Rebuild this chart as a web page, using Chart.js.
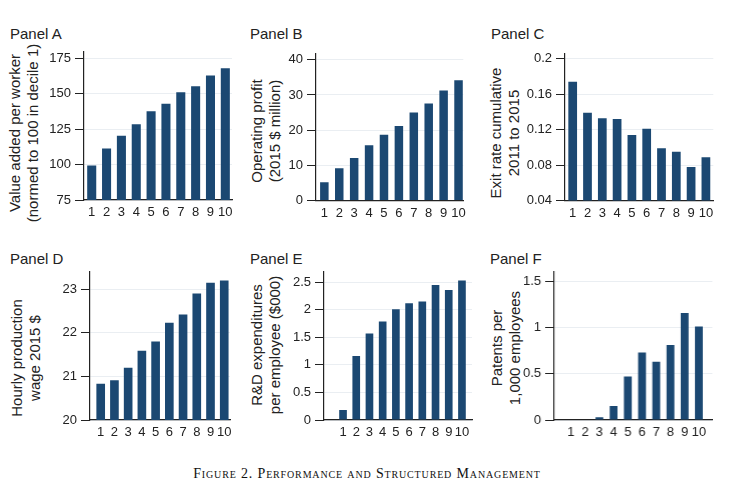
<!DOCTYPE html>
<html>
<head>
<meta charset="utf-8">
<script src="https://cdn.jsdelivr.net/npm/chart.js@4.4.0/dist/chart.umd.min.js"></script>
<style>
  body { margin: 0; background: #fff; width: 734px; height: 493px; position: relative; overflow: hidden;
         font-family: "Liberation Sans", Arial, sans-serif; color: #222; }
  .panel { position: absolute; }
  .ptitle { position: absolute; font-size: 15px; line-height: 15px; white-space: nowrap; }
  .ytitle { position: absolute; font-size: 15px; line-height: 18px; text-align: center; white-space: nowrap;
            transform: translate(-50%, -50%) rotate(-90deg); }
  .caption { position: absolute; left: 0; width: 734px; top: 466px; text-align: center;
             font-family: "Liberation Serif", serif; font-variant: small-caps; font-size: 14px;
             letter-spacing: 0.85px; color: #111; }
</style>
</head>
<body>
<div id="content"></div>
<div class="caption">Figure 2. Performance and Structured Management</div>
<script>
// management deciles on the x axis
const deciles = [1, 2, 3, 4, 5, 6, 7, 8, 9, 10]

// series, one per panel
const valueAdded = [99.3, 111.3, 120.4, 128.5, 137.7, 143.0, 151.2, 155.3, 163.0, 168.0]
const profit     = [5.2, 9.2, 12.1, 15.7, 18.7, 21.2, 25.0, 27.6, 31.3, 34.2]
const exitRate   = [0.174, 0.139, 0.133, 0.132, 0.114, 0.121, 0.099, 0.095, 0.078, 0.089]
const wage       = [20.83, 20.91, 21.2, 21.59, 21.8, 22.23, 22.42, 22.9, 23.15, 23.2]
const rnd        = [0.18, 1.16, 1.57, 1.79, 2.01, 2.12, 2.15, 2.45, 2.36, 2.53]
const patents    = [0, 0, 0.03, 0.15, 0.47, 0.73, 0.63, 0.81, 1.155, 1.01]

// y tick labels
const ticksA = [75, 100, 125, 150, 175]
const ticksB = [0, 10, 20, 30, 40]
const ticksC = [0.04, 0.08, 0.12, 0.16, 0.2]
const ticksD = [20, 21, 22, 23]
const ticksE = [0, 0.5, 1, 1.5, 2, 2.5]
const ticksF = [0, 0.5, 1, 1.5]

const barColor = '#1b4872'
const axisColor = '#222'
const gridColor = '#eaeef2'
const font = {family: '"Liberation Sans", Arial, sans-serif', size: 13}

const panels = [
  {name: 'Panel A', ytitle: ['Value added per worker', '(normed to 100 in decile 1)'], values: valueAdded, yTicks: ticksA,
   yMin: 75, yMax: 179.7, xMin: 0.48, xMax: 10.45, axisX: 84, top: 50, bottom: 200, right: 232,
   tx: 10, ty: 25.5, lx: 24, ly: 133, bar: 0.61},
  {name: 'Panel B', ytitle: ['Operating profit', '(2015 $ million)'], values: profit, yTicks: ticksB,
   yMin: 0, yMax: 41.7, xMin: 0.44, xMax: 10.32, axisX: 315.7, top: 51.7, bottom: 200.3, right: 463,
   tx: 250, ty: 25.5, lx: 266, ly: 131, bar: 0.57},
  {name: 'Panel C', ytitle: ['Exit rate cumulative', '2011 to 2015'], values: exitRate, yTicks: ticksC,
   yMin: 0.04, yMax: 0.2056, xMin: 0.48, xMax: 10.5, axisX: 565, top: 51.7, bottom: 200.3, right: 713.3,
   tx: 491, ty: 25.5, lx: 505, ly: 133, bar: 0.59},
  {name: 'Panel D', ytitle: ['Hourly production', 'wage 2015 $'], values: wage, yTicks: ticksD,
   yMin: 20, yMax: 23.4, xMin: 0.22, xMax: 10.42, axisX: 90, top: 270, bottom: 420, right: 230,
   tx: 10, ty: 250.5, lx: 26, ly: 358, bar: 0.63},
  {name: 'Panel E', ytitle: ['R&D expenditures', 'per employee ($000)'], values: rnd, yTicks: ticksE,
   yMin: 0, yMax: 2.69, xMin: -0.44, xMax: 10.76, axisX: 323.7, top: 270, bottom: 420, right: 471.7,
   tx: 250, ty: 250.5, lx: 266, ly: 345, bar: 0.58},
  {name: 'Panel F', ytitle: ['Patents per', '1,000 employees'], values: patents, yTicks: ticksF,
   yMin: 0, yMax: 1.6, xMin: -0.18, xMax: 10.95, axisX: 554.3, top: 270, bottom: 420, right: 711.7,
   tx: 490, ty: 250.5, lx: 505.5, ly: 348, bar: 0.55},
]

const yW = 40   // width of the y scale box (labels + tick marks)
const xH = 25   // height of the x scale box
const Body = document.getElementById('content')

panels.forEach((p, i) => {
  const left = p.axisX - yW
  const top = p.top - 10
  const w = p.right + 10 - left
  const h = p.bottom - top + xH
  const html = `
    <div class="ptitle" style="left:${p.tx}px;top:${p.ty}px">${p.name}</div>
    <div class="ytitle" style="left:${p.lx}px;top:${p.ly}px">${p.ytitle.map(s => s.replace('&', '&amp;')).join('<br>')}</div>
    <div class="panel" style="left:${left}px;top:${top}px;width:${w}px;height:${h}px"><canvas id="c${i}"></canvas></div>
  `
  Body.appendChild(document.createRange().createContextualFragment(html))

  new Chart(document.getElementById('c' + i), {
    type: 'bar',
    data: {
      datasets: [{
        data: deciles.map((d, k) => ({x: d, y: p.values[k]})),
        backgroundColor: barColor,
        borderWidth: 0,
        barPercentage: p.bar,
        categoryPercentage: 1
      }]
    },
    options: {
      animation: false,
      responsive: true,
      maintainAspectRatio: false,
      layout: {padding: {top: 10, right: 10, left: 0, bottom: 0}},
      plugins: {legend: {display: false}, tooltip: {enabled: false}},
      scales: {
        x: {
          type: 'linear', min: p.xMin, max: p.xMax, offset: false,
          afterBuildTicks: s => { s.ticks = deciles.map(v => ({value: v})) },
          afterFit: s => { s.height = xH },
          grid: {display: true, drawOnChartArea: false, drawTicks: false, offset: false},
          border: {display: true, color: axisColor, width: 1.2},
          ticks: {autoSkip: false, maxRotation: 0, padding: 5, color: axisColor, font, callback: v => String(v)}
        },
        y: {
          min: p.yMin, max: p.yMax,
          afterBuildTicks: s => { s.ticks = p.yTicks.map(v => ({value: v})) },
          afterFit: s => { s.width = yW },
          grid: {color: gridColor, tickColor: axisColor, tickLength: 9, lineWidth: 1},
          border: {display: true, color: axisColor, width: 1.2},
          ticks: {padding: 4, color: axisColor, font, callback: v => String(v)}
        }
      }
    }
  })
})
</script>
</body>
</html>
